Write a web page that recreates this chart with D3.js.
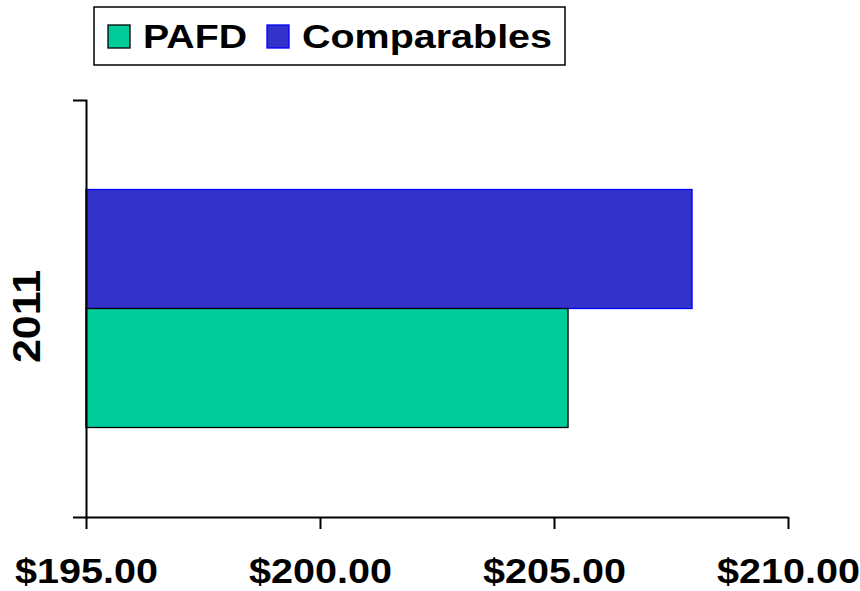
<!DOCTYPE html>
<html>
<head>
<meta charset="utf-8">
<title>PAFD vs Comparables</title>
<script src="https://cdn.jsdelivr.net/npm/d3@7"></script>
<style>
  body { margin: 0; background: #fff; }
  text { font-family: "Liberation Sans", Arial, sans-serif; font-weight: bold; fill: #000; }
</style>
</head>
<body>
<script>
var categories = ["2011"];
var seriesNames = ["Comparables", "PAFD"];
var pafd = [205.30];
var comparables = [207.95];
var tickValues = [195, 200, 205, 210];
var colors = { PAFD: "#00CC99", Comparables: "#3333CC" };
var strokes = { PAFD: "#000000", Comparables: "#0000FF" };

var w = 860, h = 591;

var svg = d3.select("body").append("svg")
    .attr("width", w)
    .attr("height", h);

// scales
var xScale = d3.scaleLinear().domain([195, 210]).range([86, 788]);
var yScale = d3.scaleBand().domain(categories).range([517, 100]).paddingOuter(0.376);
var sub = d3.scaleBand().domain(seriesNames).range([0, yScale.bandwidth()]);

var rows = categories.map(function(c, i) {
  return { cat: c, PAFD: pafd[i], Comparables: comparables[i] };
});

// bars
rows.forEach(function(r) {
  seriesNames.forEach(function(s) {
    svg.append("rect")
      .attr("x", xScale(195))
      .attr("y", yScale(r.cat) + sub(s))
      .attr("width", xScale(r[s]) - xScale(195))
      .attr("height", sub.bandwidth())
      .attr("fill", colors[s])
      .attr("stroke", strokes[s])
      .attr("stroke-width", 1.3);
  });
});

// y axis (outer ticks at both ends)
var yAxis = d3.axisLeft(yScale).tickSizeInner(0).tickSizeOuter(13).tickFormat("");
var gy = svg.append("g").attr("transform", "translate(86,0)").call(yAxis);
gy.select(".domain").attr("stroke", "#000").attr("stroke-width", 2);

// category label rotated
categories.forEach(function(c) {
  var cy = yScale(c) + yScale.bandwidth() / 2 + 8;
  svg.append("text")
    .text(c)
    .attr("transform", "translate(40," + cy + ") rotate(-90)")
    .attr("text-anchor", "middle")
    .attr("font-size", "39px")
    .attr("textLength", 93)
    .attr("lengthAdjust", "spacingAndGlyphs");
});

// x axis
var xAxis = d3.axisBottom(xScale)
    .tickValues(tickValues)
    .tickSizeInner(12)
    .tickSizeOuter(0)
    .tickFormat(function(d) { return "$" + d3.format(".2f")(d); });
var gx = svg.append("g").attr("transform", "translate(0,517)").call(xAxis);
gx.select(".domain").attr("stroke", "#000").attr("stroke-width", 2);
gx.selectAll(".tick line").attr("stroke", "#000").attr("stroke-width", 2);
gx.selectAll(".tick text")
    .attr("y", 66)
    .attr("dy", 0)
    .attr("font-size", "35px")
    .attr("font-family", null)
    .attr("fill", "#000")
    .attr("textLength", 143)
    .attr("lengthAdjust", "spacingAndGlyphs");
gx.attr("font-family", null).attr("font-size", null);

// legend
var legend = svg.append("g");
legend.append("rect")
  .attr("x", 94).attr("y", 7).attr("width", 471).attr("height", 58)
  .attr("fill", "#fff").attr("stroke", "#000").attr("stroke-width", 1.5);

var legendItems = [
  { name: "PAFD", sx: 108, tx: 143, len: 104 },
  { name: "Comparables", sx: 267, tx: 302, len: 250 }
];
legendItems.forEach(function(d) {
  legend.append("rect")
    .attr("x", d.sx).attr("y", 25).attr("width", 22).attr("height", 23)
    .attr("fill", colors[d.name]).attr("stroke", strokes[d.name]).attr("stroke-width", 1.3);
  legend.append("text")
    .text(d.name)
    .attr("x", d.tx).attr("y", 48)
    .attr("font-size", "32.5px")
    .attr("textLength", d.len)
    .attr("lengthAdjust", "spacingAndGlyphs");
});
</script>
</body>
</html>
